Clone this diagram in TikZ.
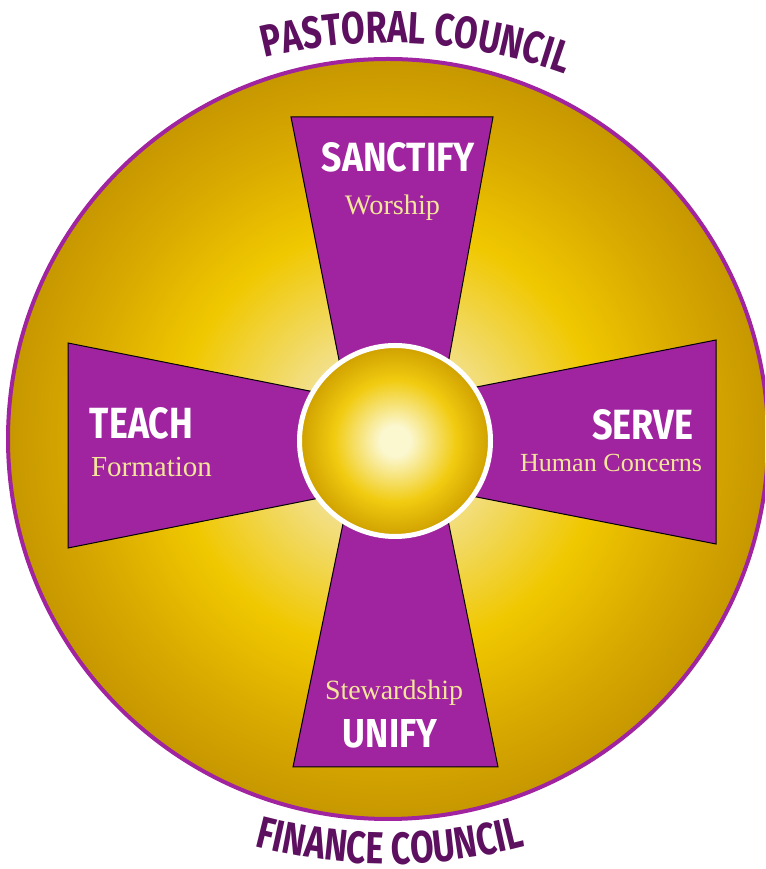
\documentclass[tikz,border=0pt]{standalone}
\usepackage{fontspec}
\setmainfont{Liberation Serif}
\newfontfamily\condfont{Fira Sans}[FakeStretch=0.8]
\newfontfamily\arcfont{Fira Sans}[FakeStretch=0.76]
\usetikzlibrary{decorations.text}
\definecolor{armpurple}{HTML}{A023A0}
\definecolor{darkpurple}{HTML}{5E1060}
\definecolor{cream}{HTML}{F3E59A}
\definecolor{gA}{HTML}{FBF6CC}
\definecolor{gB}{HTML}{F2E08A}
\definecolor{gC}{HTML}{F0C800}
\definecolor{gD}{HTML}{D9AA00}
\definecolor{gE}{HTML}{C79700}
\definecolor{iA}{HTML}{FBF7CF}
\definecolor{iB}{HTML}{F1CB10}
\definecolor{iC}{HTML}{CFA000}
\pgfdeclareradialshading{outergold}{\pgfpointorigin}{color(0bp)=(gA); color(6bp)=(gB); color(14bp)=(gC); color(20bp)=(gD); color(25bp)=(gE); color(50bp)=(gE)}
\pgfdeclareradialshading{innergold}{\pgfpointorigin}{color(0bp)=(iA); color(4bp)=(iA); color(16bp)=(iB); color(25bp)=(iC); color(50bp)=(iC)}
\begin{document}
\begin{tikzpicture}[x=1pt,y=1pt,
  armstyle/.style={fill=armpurple, draw=black, line width=1pt, line join=miter},
  caplabel/.style={text=white, inner sep=0pt},
  sublabel/.style={text=cream, inner sep=0pt, anchor=base},
  arctext/.style={decorate, decoration={text along path, text align=center, text color=darkpurple,
     text={|\arcfont\bfseries\fontsize{45}{50}\selectfont|#1}}}]
\useasboundingbox (0,0) rectangle (765,869);
\clip (0,0) rectangle (765,869);
\fill[white] (0,0) rectangle (765,869);
% outer disc
\coordinate (oc) at (388,430);
\shade[shading=outergold] (oc) circle[radius=380];
\draw[armpurple, line width=4pt] (oc) circle[radius=380];
% arms
\draw[armstyle] (291,752) -- (493,752) -- (434,428) -- (355,428) -- cycle;
\draw[armstyle] (293,102) -- (498,102) -- (432,428) -- (360,428) -- cycle;
\draw[armstyle] (68,526) -- (68,321) -- (395,386) -- (395,461) -- cycle;
\draw[armstyle] (716,529) -- (716,325) -- (395,388) -- (395,466) -- cycle;
% inner disc
\coordinate (ic) at (395,428);
\shade[shading=innergold] (ic) circle[radius=95.5];
\draw[white, line width=5pt] (ic) circle[radius=95.5];
% labels
\node[caplabel] (sanctify) at (398.5,712) {\resizebox{153pt}{29pt}{\condfont\bfseries SANCTIFY}};
\node[sublabel] (worship) at (392.5,654) {\resizebox{95pt}{!}{Worship}};
\node[caplabel] (teach) at (141.5,445.5) {\resizebox{103pt}{31pt}{\condfont\bfseries TEACH}};
\node[sublabel] (formation) at (151.5,392) {\resizebox{121pt}{!}{Formation}};
\node[caplabel] (serve) at (642.5,444) {\resizebox{101pt}{30pt}{\condfont\bfseries SERVE}};
\node[sublabel] (human) at (611,397) {\resizebox{182pt}{!}{Human Concerns}};
\node[sublabel] (steward) at (394,169) {\resizebox{138pt}{!}{Stewardship}};
\node[caplabel] (unify) at (390,135) {\resizebox{94pt}{28pt}{\condfont\bfseries UNIFY}};
% curved titles
\path[arctext={PASTORAL COUNCIL}] (389,309) ++(127:517) arc[start angle=127, end angle=47, radius=517];
\path[arctext={FINANCE COUNCIL}] (390,532) ++(230:527) arc[start angle=230, end angle=310, radius=527];
\end{tikzpicture}
\end{document}
